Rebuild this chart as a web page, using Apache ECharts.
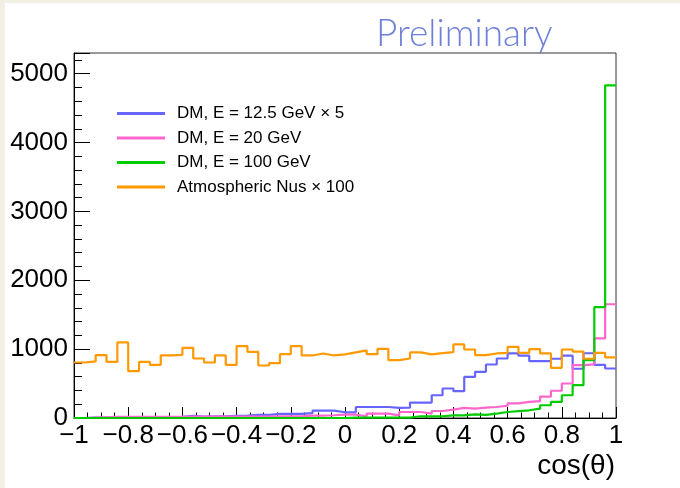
<!DOCTYPE html>
<html>
<head>
<meta charset="utf-8">
<script src="https://cdn.jsdelivr.net/npm/echarts@6/dist/echarts.min.js"></script>
<style>
  html, body { margin: 0; padding: 0; background: #f3efe4; }
  #panel { position: absolute; left: 5px; top: 3px; width: 675px; height: 485px; background: #ffffff; }
  #chart { position: absolute; left: 0; top: 0; width: 680px; height: 488px; }
</style>
</head>
<body>
<div id="panel"></div>
<div id="chart"></div>
<script>
// Histogram definition: 50 bins over cos(theta) in [-1, 1]
const xMin = -1;
const xMax = 1;
const nBins = 50;

const seriesNames = [
  'DM, E = 12.5 GeV \u00d7 5',
  'DM, E = 20 GeV',
  'DM, E = 100 GeV',
  'Atmospheric Nus \u00d7 100'
];

// Bin contents (bins from cos = -1 to 1)
const dm12Values = [
  0, 5, 5, 0, 5, 0, 5, 10, 10, 15,
  30, 20, 25, 25, 30, 35, 45, 45, 60, 60,
  60, 70, 107, 107, 83, 83, 160, 160, 160, 146,
  150, 224, 224, 330, 428, 389, 597, 670, 777, 864,
  937, 905, 825, 825, 860, 905, 715, 940, 772, 719
];
const dm20Values = [
  0, 5, 10, 15, 15, 15, 15, 15, 15, 15,
  20, 20, 20, 20, 20, 20, 20, 20, 25, 25,
  25, 35, 35, 40, 49, 49, 25, 64, 64, 39,
  87, 87, 64, 102, 122, 146, 136, 150, 160, 178,
  213, 233, 244, 311, 396, 501, 767, 780, 1156, 1652
];
const dm100Values = [
  0, 0, 0, 0, 0, 0, 0, 0, 0, 0,
  0, 0, 0, 0, 0, 0, 0, 0, 0, 0,
  0, 0, 0, 0, 0, 5, 5, 5, 5, 5,
  5, 25, 25, 25, 39, 39, 54, 45, 64, 87,
  100, 112, 136, 185, 233, 330, 476, 840, 1610, 4830
];
const atmValues = [
  806, 821, 913, 815, 1097, 680, 815, 772, 908, 917,
  1019, 864, 806, 908, 772, 1044, 961, 762, 796, 927,
  1044, 908, 937, 908, 923, 952, 981, 927, 1005, 840,
  864, 952, 923, 942, 956, 1068, 995, 913, 937, 946,
  1034, 946, 1000, 937, 728, 995, 965, 860, 946, 879
];

const lineColors = ['#6666ff', '#ff66cc', '#00cc00', '#ff9900'];

const yMax = 5300;
const yMajorStep = 1000;
const yMinorStep = 200;
const xMajorStep = 0.2;

// Step outline points at bin edges (ROOT "hist" style)
function toSteps(vals) {
  const w = (xMax - xMin) / nBins;
  const pts = vals.map((v, i) => [xMin + i * w, v]);
  pts.push([xMax, vals[vals.length - 1]]);
  return pts;
}

const allValues = [dm12Values, dm20Values, dm100Values, atmValues];

const chart = echarts.init(document.getElementById('chart'), null, { renderer: 'canvas' });

const fontFam = '"Liberation Sans", Arial, Helvetica, sans-serif';

chart.setOption({
  animation: false,
  backgroundColor: 'transparent',
  grid: {
    left: 74, right: 64, top: 53, bottom: 70,
    show: true, borderColor: '#333', borderWidth: 1, backgroundColor: 'transparent'
  },
  legend: {
    orient: 'vertical',
    left: 117,
    top: 105,
    padding: 0,
    itemWidth: 48,
    itemHeight: 3,
    itemGap: 7.5,
    icon: 'rect',
    textStyle: { fontSize: 17, fontFamily: fontFam, color: '#000', lineHeight: 17, padding: [0, 0, 0, 7] },
    data: seriesNames
  },
  xAxis: {
    type: 'value',
    min: xMin, max: xMax, interval: xMajorStep,
    axisLine: { show: true, onZero: false, lineStyle: { color: '#000', width: 1 } },
    axisTick: { show: true, inside: true, length: 11, lineStyle: { color: '#000' } },
    minorTick: { show: true, splitNumber: 4, length: 5.5, lineStyle: { color: '#000' } },
    splitLine: { show: false },
    axisLabel: {
      margin: 5,
      fontSize: 26,
      fontFamily: fontFam,
      color: '#000',
      formatter: function (v) {
        const r = Math.round(v * 10) / 10;
        return String(r).replace('-', '\u2212');
      }
    }
  },
  yAxis: [
    {
      type: 'value', min: 0, max: yMax, interval: yMajorStep, position: 'left',
      axisLine: { show: true, onZero: false, lineStyle: { color: '#000', width: 1 } },
      axisTick: { show: true, inside: true, length: 16, lineStyle: { color: '#000' } },
      splitLine: { show: false },
      axisLabel: {
        margin: 6, fontSize: 26, fontFamily: fontFam, color: '#000',
        formatter: function (v) { return (v % yMajorStep === 0) ? String(v) : ''; }
      }
    },
    {
      type: 'value', min: 0, max: yMax, interval: yMinorStep, position: 'left',
      axisLine: { show: false, onZero: false },
      axisTick: { show: true, inside: true, length: 8, lineStyle: { color: '#000' } },
      splitLine: { show: false },
      axisLabel: { show: false }
    }
  ],
  graphic: [
    {
      type: 'text', left: 376, top: 16,
      style: { text: 'Preliminary', fill: '#6f80d9', font: '300 37px Lato, "Open Sans", sans-serif' }
    },
    {
      type: 'text', right: 65, top: 452,
      style: { text: 'cos(\u03b8)', fill: '#000', font: '28px ' + fontFam }
    }
  ],
  series: allValues.map((vals, k) => ({
    name: seriesNames[k],
    type: 'line',
    step: 'end',
    yAxisIndex: 0,
    showSymbol: false,
    symbol: 'none',
    data: toSteps(vals),
    lineStyle: { color: lineColors[k], width: 2.2 },
    itemStyle: { color: lineColors[k] },
    z: 2 + k
  }))
});
</script>
</body>
</html>
